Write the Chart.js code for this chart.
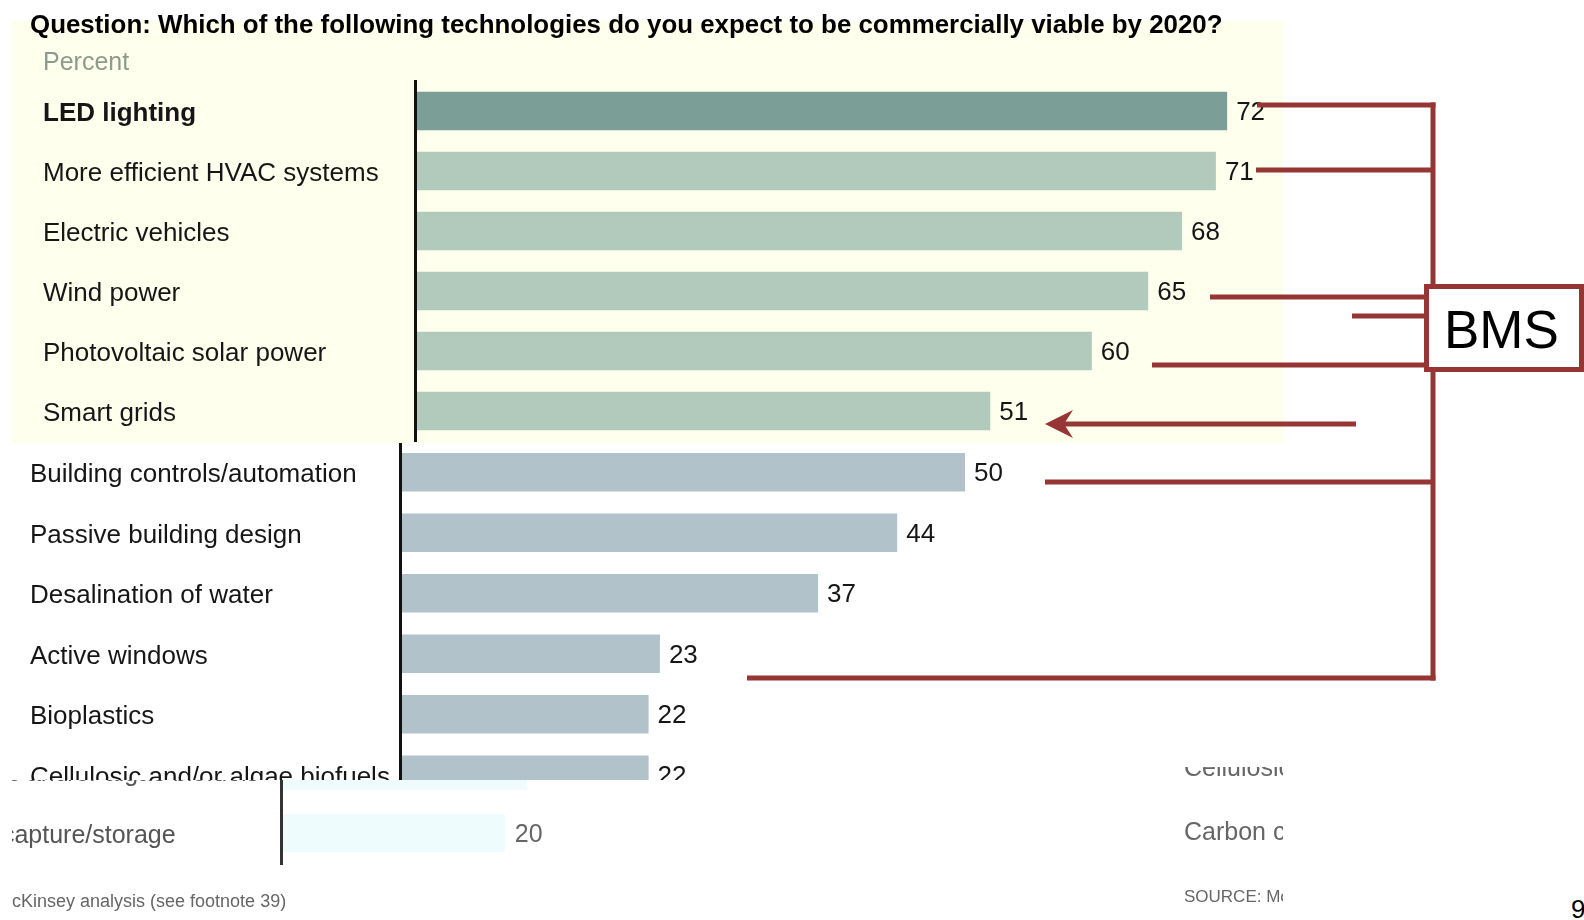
<!DOCTYPE html>
<html>
<head>
<meta charset="utf-8">
<script src="https://cdn.jsdelivr.net/npm/chart.js@4.4.0/dist/chart.umd.min.js"></script>
<style>
html,body{margin:0;padding:0;background:#fff;width:1584px;height:920px;overflow:hidden;font-family:"Liberation Sans",Arial,sans-serif;}
.abs{position:absolute;}
#panelA{left:12px;top:21px;width:1271px;height:422px;background:#FEFFEC;z-index:2;}
#panelB{left:0;top:443px;width:1283px;height:337px;overflow:hidden;z-index:1;}
#panelC{left:12px;top:780px;width:1160px;height:130px;overflow:hidden;z-index:1;}
#cA{position:absolute;left:0;top:1px;}
#cB{position:absolute;left:0;top:-2px;}
#cC{position:absolute;left:-99px;top:-45px;}
#title{left:30px;top:12px;font-weight:bold;font-size:25px;line-height:25px;color:#000;white-space:nowrap;transform-origin:0 0;z-index:5;}
#percent{left:43px;top:49px;font-size:25px;line-height:25px;color:#8d9a8c;z-index:5;}
#rightClip{left:1184px;top:767px;width:99px;height:143px;overflow:hidden;z-index:3;}
#rightClip span{position:absolute;left:0;white-space:nowrap;color:#666;}
#foot{left:12px;top:892px;font-size:18px;line-height:18px;color:#666;white-space:nowrap;z-index:3;}
#page{left:1571px;top:896px;font-size:26px;line-height:26px;color:#000;z-index:3;}
#ann{position:absolute;left:0;top:0;z-index:10;}
</style>
</head>
<body>
<div id="title" class="abs">Question: Which of the following technologies do you expect to be commercially viable by 2020?</div>
<div id="percent" class="abs">Percent</div>
<div id="panelA" class="abs"><canvas id="cA" width="1271" height="421"></canvas></div>
<div id="panelB" class="abs"><canvas id="cB" width="1283" height="365"></canvas></div>
<div id="panelC" class="abs"><canvas id="cC" width="1050" height="175"></canvas></div>
<div id="rightClip" class="abs">
  <span style="top:-12px;font-size:25px;line-height:25px;">Cellulosic and/or algae biofuels</span>
  <span style="top:52px;font-size:25px;line-height:25px;">Carbon capture/storage</span>
  <span style="top:121px;font-size:17px;line-height:17px;">SOURCE: McKinsey analysis</span>
</div>
<div id="foot" class="abs">cKinsey analysis (see footnote 39)</div>
<div id="page" class="abs">9</div>
<svg id="ann" width="1584" height="920" xmlns="http://www.w3.org/2000/svg">
  <g stroke="#963634" stroke-width="5" fill="none" stroke-linecap="butt">
    <line x1="1433" y1="102.5" x2="1433" y2="680.5"/>
    <line x1="1257" y1="105" x2="1435.5" y2="105"/>
    <line x1="1256" y1="170" x2="1433" y2="170"/>
    <line x1="1210" y1="297" x2="1426" y2="297"/>
    <line x1="1352" y1="316" x2="1426" y2="316"/>
    <line x1="1152" y1="365" x2="1426" y2="365"/>
    <line x1="1062" y1="424" x2="1356" y2="424"/>
    <line x1="1045" y1="482" x2="1433" y2="482"/>
    <line x1="747" y1="678" x2="1435.5" y2="678"/>
  </g>
  <path d="M1045,424 L1073,410 L1064,424 L1073,438 Z" fill="#963634"/>
  <rect x="1426.5" y="286.5" width="155" height="83" fill="#fff" stroke="#963634" stroke-width="5"/>
  <text x="1444" y="348" font-family="Liberation Sans, Arial, sans-serif" font-size="53" fill="#000">BMS</text>
</svg>
<script>
// ---- data ----
const topCategories = ["LED lighting","More efficient HVAC systems","Electric vehicles","Wind power","Photovoltaic solar power","Smart grids"];
const topValues = [72,71,68,65,60,51];
const midCategories = ["Building controls/automation","Passive building design","Desalination of water","Active windows","Bioplastics","Cellulosic and/or algae biofuels"];
const midValues = [50,44,37,23,22,22];
const lowCategories = ["Cellulosic and/or algae biofuels","Carbon capture/storage"];
const lowValues = [22,20];

// fit title width
(function(){
  const t = document.getElementById('title');
  const w = t.scrollWidth;
  t.style.transform = 'scaleX(' + (1193 / w) + ')';
})();

const FONT = "'Liberation Sans', Arial, sans-serif";

const valueLabels = {
  id: 'valueLabels',
  afterDatasetsDraw(chart, args, opts) {
    const ctx = chart.ctx;
    const meta = chart.getDatasetMeta(0);
    const ds = chart.data.datasets[0];
    ctx.save();
    ctx.font = opts.font;
    ctx.fillStyle = opts.color;
    ctx.textBaseline = 'middle';
    ctx.textAlign = 'left';
    meta.data.forEach((bar, i) => {
      ctx.fillText(String(ds.data[i]), bar.x + opts.offset, bar.y + 2);
    });
    ctx.restore();
  }
};

function makeChart(id, labels, values, colors, o) {
  return new Chart(document.getElementById(id), {
    type: 'bar',
    data: {
      labels: labels,
      datasets: [{
        data: values,
        backgroundColor: colors,
        borderWidth: 0,
        barPercentage: o.barPct,
        categoryPercentage: 1
      }]
    },
    options: {
      indexAxis: 'y',
      responsive: false,
      animation: false,
      events: [],
      layout: { padding: o.padding },
      plugins: {
        legend: { display: false },
        tooltip: { enabled: false },
        valueLabels: { font: o.valueFont, color: o.valueColor, offset: o.valueOffset }
      },
      scales: {
        x: { display: false, min: 0, max: o.max },
        y: {
          grid: { display: false, drawTicks: false },
          border: { display: true, color: o.axisColor, width: 3, z: 1 },
          ticks: {
            crossAlign: 'far',
            padding: 0,
            autoSkip: false,
            labelOffset: 3,
            color: o.labelColor,
            font: o.tickFont
          },
          afterFit(scale) {
            scale.width = o.scaleWidth;
            scale.paddingTop = 0;
            scale.paddingBottom = 0;
          }
        }
      }
    },
    plugins: [valueLabels]
  });
}

makeChart('cA', topCategories, topValues,
  topValues.map((v, i) => i === 0 ? '#7B9F97' : '#B1CABC'),
  {
    barPct: 0.64, max: 75, scaleWidth: 372,
    padding: { left: 31, top: 59, bottom: 2, right: 22 },
    axisColor: '#111', labelColor: '#161616',
    tickFont: (c) => ({ family: FONT, size: 26, weight: c.index === 0 ? 'bold' : 'normal' }),
    valueFont: "26px " + FONT, valueColor: '#161616', valueOffset: 9
  });

makeChart('cB', midCategories, midValues,
  midValues.map(() => '#B1C2CB'),
  {
    barPct: 0.64, max: 75, scaleWidth: 370,
    padding: { left: 30, top: 1, bottom: 1, right: 35.5 },
    axisColor: '#111', labelColor: '#161616',
    tickFont: { family: FONT, size: 26 },
    valueFont: "26px " + FONT, valueColor: '#161616', valueOffset: 9
  });

makeChart('cC', lowCategories, lowValues,
  lowValues.map(() => '#EEFCFD'),
  {
    barPct: 0.61, max: 60, scaleWidth: 368.5,
    padding: { left: 0, top: 5, bottom: 46, right: 11.5 },
    axisColor: '#333', labelColor: '#555',
    tickFont: { family: FONT, size: 25 },
    valueFont: "25px " + FONT, valueColor: '#666', valueOffset: 10
  });
</script>
</body>
</html>
